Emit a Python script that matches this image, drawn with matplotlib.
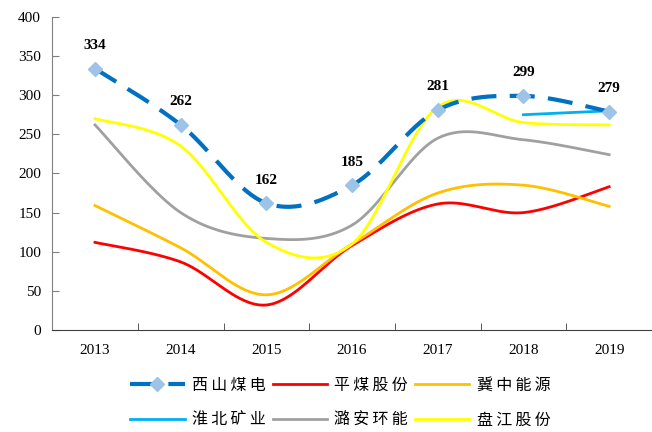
import numpy as np
import matplotlib.pyplot as plt
from matplotlib.lines import Line2D

plt.rcParams['font.family'] = ['Liberation Serif', 'Noto Sans CJK SC']

years = ['2013', '2014', '2015', '2016', '2017', '2018', '2019']
xishan = [334, 262, 162, 185, 281, 299, 279]
pingmei = [112, 87, 32, 108, 161, 150, 183]
jizhong = [159, 105, 45, 110, 175, 185, 158]
huaibei_x = [5, 6]
huaibei = [275, 280]
luan = [262, 150, 117, 134, 245, 243, 224]
panjiang = [270, 235, 112, 110, 285, 265, 262]


def smooth(xs, ys, n=40):
    # excel-like smoothed line (catmull-rom through the points)
    xs = np.asarray(xs, float)
    ys = np.asarray(ys, float)
    px = np.concatenate([[xs[0]], xs, [xs[-1]]])
    py = np.concatenate([[ys[0]], ys, [ys[-1]]])
    outx, outy = [], []
    t = np.linspace(0, 1, n)
    for i in range(1, len(px) - 2):
        x0, x3 = px[i], px[i + 1]
        y0, y3 = py[i], py[i + 1]
        x1 = x0 + (px[i + 1] - px[i - 1]) / 6
        y1 = y0 + (py[i + 1] - py[i - 1]) / 6
        x2 = x3 - (px[i + 2] - px[i]) / 6
        y2 = y3 - (py[i + 2] - py[i]) / 6
        bx = (1-t)**3*x0 + 3*(1-t)**2*t*x1 + 3*(1-t)*t**2*x2 + t**3*x3
        by = (1-t)**3*y0 + 3*(1-t)**2*t*y1 + 3*(1-t)*t**2*y2 + t**3*y3
        outx.extend(bx)
        outy.extend(by)
    return np.array(outx), np.array(outy)


fig = plt.figure(figsize=(6.52, 4.32), dpi=100)
ax = fig.add_axes([0.08, 0.236, 0.92, 0.725])

x = np.arange(len(years))

lw = 2.0
sx, sy = smooth(x, pingmei)
ax.plot(sx, sy, color='#FF0000', lw=lw)
sx, sy = smooth(x, jizhong)
ax.plot(sx, sy, color='#FFC000', lw=lw)
ax.plot(huaibei_x, huaibei, color='#00B0F0', lw=lw)
sx, sy = smooth(x, luan)
ax.plot(sx, sy, color='#A0A0A0', lw=lw)
sx, sy = smooth(x, panjiang)
ax.plot(sx, sy, color='#FFFF00', lw=lw)
sx, sy = smooth(x, xishan)
ax.plot(sx, sy, color='#0070C0', lw=3, dashes=(6, 3.2))
ax.plot(x, xishan, ls='none', marker='D', ms=7, color='#9DC3E6')

for xi, v in zip(x, xishan):
    ax.annotate(str(v), (xi, v), xytext=(0, 12), textcoords='offset points',
                ha='center', va='bottom', fontsize=11, fontweight='bold')

ax.set_xlim(-0.5, 6.5)
ax.set_ylim(0, 400)
ax.set_yticks(range(0, 401, 50))
ax.set_xticks(x)
ax.set_xticklabels(years)
ax.set_xticks(np.arange(-0.5, 6.6, 1), minor=True)
ax.tick_params(axis='x', which='major', length=0, pad=10, labelsize=11)
ax.tick_params(axis='x', which='minor', direction='in', length=5, color='#404040')
ax.tick_params(axis='y', direction='in', length=5, color='#808080', labelsize=11, pad=8)
for s in ['top', 'right']:
    ax.spines[s].set_visible(False)
ax.spines['left'].set_color('#808080')
ax.spines['bottom'].set_color('#404040')

handles = [
    Line2D([], [], color='#0070C0', lw=3, dashes=(6, 3.2), marker='D', ms=7,
           markerfacecolor='#9DC3E6', markeredgecolor='#9DC3E6'),
    Line2D([], [], color='#00B0F0', lw=lw),
    Line2D([], [], color='#FF0000', lw=lw),
    Line2D([], [], color='#A0A0A0', lw=lw),
    Line2D([], [], color='#FFC000', lw=lw),
    Line2D([], [], color='#FFFF00', lw=lw),
]
labels = ['西山煤电', '淮北矿业', '平煤股份', '潞安环能', '冀中能源', '盘江股份']
labels = ['\u2009'.join(s) for s in labels]
fig.legend(handles, labels, ncol=3, loc='lower center', bbox_to_anchor=(0.522, -0.025),
           frameon=False, handlelength=3.4, columnspacing=0.45, handletextpad=0.45,
           labelspacing=1.1, prop={'family': ['Noto Sans CJK SC', 'DejaVu Sans'], 'size': 11.5})

fig.savefig('out.png', dpi=100)
